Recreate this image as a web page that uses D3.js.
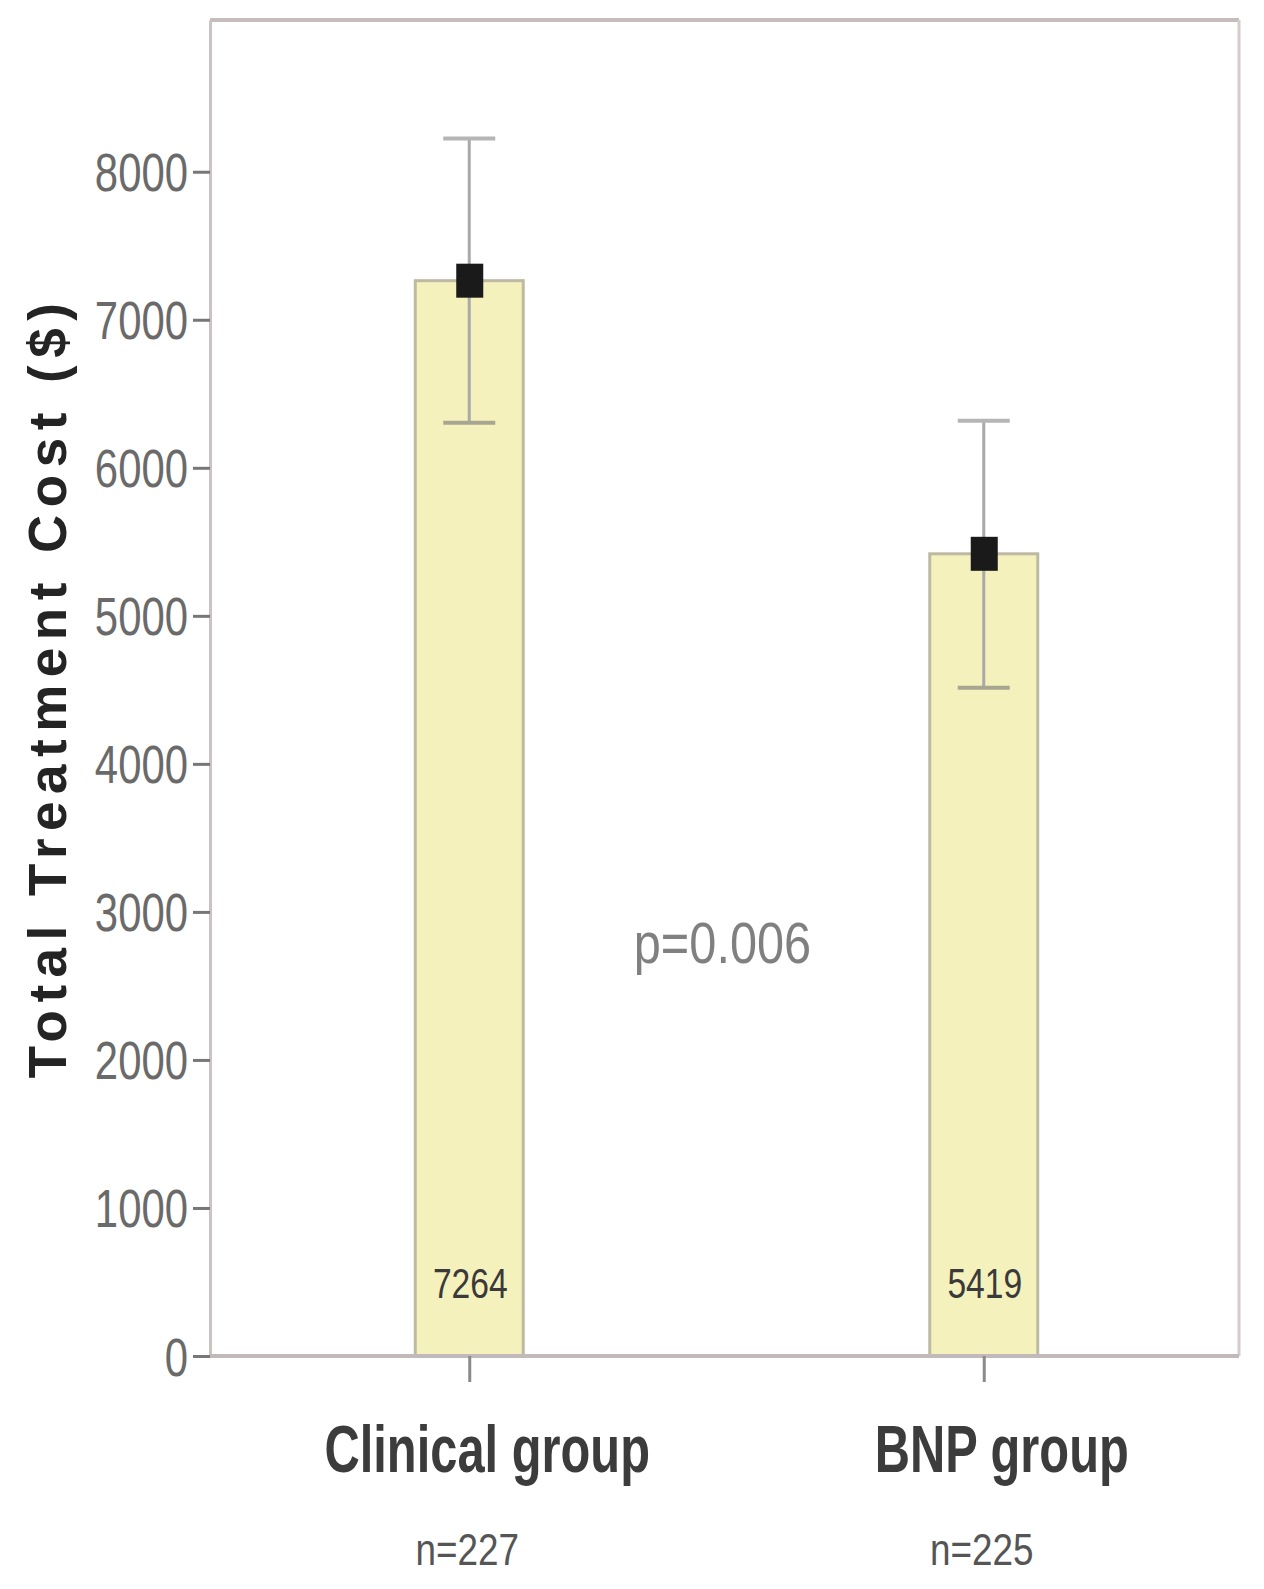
<!DOCTYPE html>
<html>
<head>
<meta charset="utf-8">
<script src="https://cdn.jsdelivr.net/npm/d3@7"></script>
<style>
  body { margin: 0; background: #fff; }
  text { font-family: "Liberation Sans", Arial, sans-serif; }
</style>
</head>
<body>
<svg id="chart"></svg>
<script>
const categories = ["Clinical group", "BNP group"];
const groupSizes = ["n=227", "n=225"];
const meanCost = [7264, 5419];
const errLower = [6304, 4515];
const errUpper = [8224, 6318];
const yTicks = [0, 1000, 2000, 3000, 4000, 5000, 6000, 7000, 8000];
const pText = "p=0.006";

const width = 1264;
const height = 1589;
const plotLeft = 210, plotRight = 1239, plotTop = 20, plotBottom = 1356;

const svg = d3.select("#chart").attr("width", width).attr("height", height);
svg.append("rect").attr("width", width).attr("height", height).attr("fill", "#fff");

const y = d3.scaleLinear().domain([0, 9025]).range([plotBottom, plotTop]);
const x = d3.scalePoint().domain(categories).range([plotLeft + 2, plotRight + 2]).padding(0.5);
const barW = 108;

// frame (top / right), left and bottom come from the axes
svg.append("line").attr("x1", plotLeft).attr("x2", plotRight).attr("y1", plotTop).attr("y2", plotTop)
  .attr("stroke", "#c6bcbc").attr("stroke-width", 4);
svg.append("line").attr("x1", plotRight).attr("x2", plotRight).attr("y1", plotTop).attr("y2", plotBottom)
  .attr("stroke", "#d4cccc").attr("stroke-width", 3);

// bars
svg.selectAll("rect.bar")
  .data(categories)
  .enter()
  .append("rect")
  .attr("class", "bar")
  .attr("x", (d) => x(d) - barW / 2)
  .attr("y", (d, i) => y(meanCost[i]))
  .attr("width", barW)
  .attr("height", (d, i) => y(0) - y(meanCost[i]))
  .attr("fill", "#f5f1bc")
  .attr("stroke", "#bdb9a2")
  .attr("stroke-width", 3);

// error bars
const err = svg.selectAll("g.err").data(categories).enter().append("g").attr("class", "err");
err.append("line")
  .attr("x1", (d) => x(d)).attr("x2", (d) => x(d))
  .attr("y1", (d, i) => y(errUpper[i])).attr("y2", (d, i) => y(errLower[i]))
  .attr("stroke", "#a9a9a9").attr("stroke-width", 3);
err.append("line")
  .attr("x1", (d) => x(d) - 26).attr("x2", (d) => x(d) + 26)
  .attr("y1", (d, i) => y(errUpper[i])).attr("y2", (d, i) => y(errUpper[i]))
  .attr("stroke", "#b5b5b5").attr("stroke-width", 4);
err.append("line")
  .attr("x1", (d) => x(d) - 26).attr("x2", (d) => x(d) + 26)
  .attr("y1", (d, i) => y(errLower[i])).attr("y2", (d, i) => y(errLower[i]))
  .attr("stroke", "#a8a690").attr("stroke-width", 4);
err.append("rect")
  .attr("x", (d) => x(d) - 13).attr("y", (d, i) => y(meanCost[i]) - 17)
  .attr("width", 27).attr("height", 34)
  .attr("fill", "#1a1a1a");

// value labels inside bars
svg.selectAll("text.val")
  .data(categories)
  .enter()
  .append("text")
  .attr("class", "val")
  .attr("transform", (d) => `translate(${x(d) + 1},${y(0) - 58}) scale(0.8,1)`)
  .attr("text-anchor", "middle")
  .attr("font-size", 42)
  .attr("fill", "#3a3a3a")
  .text((d, i) => meanCost[i]);

// y axis
const yAxis = svg.append("g")
  .attr("transform", `translate(${plotLeft},0)`)
  .call(d3.axisLeft(y).tickValues(yTicks).tickSize(17).tickSizeOuter(0).tickPadding(0).tickFormat(d3.format("d")));
yAxis.select(".domain").attr("stroke", "#cbc2c2").attr("stroke-width", 3);
yAxis.selectAll(".tick line").attr("stroke", "#777").attr("stroke-width", 3);
yAxis.selectAll(".tick text")
  .attr("x", null).attr("dy", null)
  .attr("transform", "translate(-22,19) scale(0.79,1)")
  .attr("font-size", 53)
  .attr("fill", "#6a6a6a")
  .attr("font-family", "Liberation Sans, Arial, sans-serif");

// x axis
const xAxis = svg.append("g")
  .attr("transform", `translate(0,${plotBottom})`)
  .call(d3.axisBottom(x).tickSize(26).tickSizeOuter(0).tickFormat(""));
xAxis.select(".domain").attr("d", `M${plotLeft},0H${plotRight}`).attr("stroke", "#c2baba").attr("stroke-width", 4);
xAxis.selectAll(".tick line").attr("stroke", "#8a8a8a").attr("stroke-width", 3);

// category labels
svg.selectAll("text.cat")
  .data(categories)
  .enter()
  .append("text")
  .attr("class", "cat")
  .attr("transform", (d) => `translate(${x(d) + 18},${plotBottom + 116}) scale(0.74,1)`)
  .attr("text-anchor", "middle")
  .attr("font-size", 66)
  .attr("font-weight", "bold")
  .attr("fill", "#3c3c3c")
  .text((d) => d);

svg.selectAll("text.n")
  .data(categories)
  .enter()
  .append("text")
  .attr("class", "n")
  .attr("transform", (d) => `translate(${x(d) - 2},${plotBottom + 209}) scale(0.82,1)`)
  .attr("text-anchor", "middle")
  .attr("font-size", 45)
  .attr("fill", "#555")
  .text((d, i) => groupSizes[i]);

// p value
svg.append("text")
  .attr("transform", `translate(${(x(categories[0]) + x(categories[1])) / 2 - 4},${y(2658)}) scale(0.84,1)`)
  .attr("text-anchor", "middle")
  .attr("font-size", 58)
  .attr("fill", "#808080")
  .text(pText);

// y axis title
svg.append("text")
  .attr("transform", `translate(66,${(y(0) + plotTop) / 2 - 1}) rotate(-90)`)
  .attr("text-anchor", "middle")
  .attr("font-size", 53)
  .attr("font-weight", "bold")
  .attr("letter-spacing", 7.5)
  .attr("fill", "#242424")
  .text("Total Treatment Cost ($)");
</script>
</body>
</html>
